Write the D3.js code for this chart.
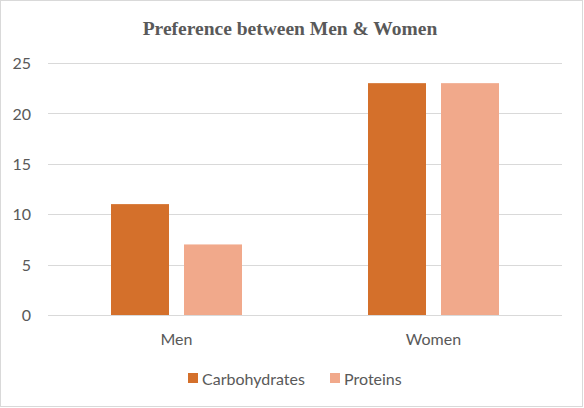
<!DOCTYPE html>
<html><head><meta charset="utf-8">
<script src="https://cdn.jsdelivr.net/npm/d3@7"></script>
<style>
html,body{margin:0;padding:0;background:#fff;}
svg{display:block;}
</style></head>
<body>
<script>
const categories = ["Men", "Women"];
const seriesNames = ["Carbohydrates", "Proteins"];
const carbohydrates = [11, 23];
const proteins = [7, 23];
const yTicks = [0, 5, 10, 15, 20, 25];
const colors = ["#D4702B", "#F1A98B"];

const W = 584, H = 408;
const svg = d3.select("body").append("svg").attr("width", W).attr("height", H);
svg.append("rect").attr("x", 0.5).attr("y", 0.5).attr("width", W - 2).attr("height", H - 2)
  .attr("fill", "#fff").attr("stroke", "#D9D9D9");

const plot = {left: 48, right: 562, top: 63, bottom: 315};
const x0 = d3.scaleBand().domain(categories).range([plot.left, plot.right]).paddingInner(0).paddingOuter(0);
const x1 = d3.scaleBand().domain(seriesNames).range([63, 63 + 58 * 2 + 15]).paddingInner(15 / 73).paddingOuter(0);
const y = d3.scaleLinear().domain([0, 25]).range([plot.bottom, plot.top]);

const font = "Lato, 'Open Sans', sans-serif";
const fs = "16px";

// gridlines
svg.append("g").selectAll("line").data(yTicks).join("line")
  .attr("x1", plot.left).attr("x2", plot.right)
  .attr("y1", d => Math.round(y(d)) + 0.5).attr("y2", d => Math.round(y(d)) + 0.5)
  .attr("stroke", "#D9D9D9").attr("stroke-width", 1);

// y labels
const yAxis = d3.axisLeft(y).tickValues(yTicks).tickSize(0).tickPadding(0);
const gy = svg.append("g").attr("transform", `translate(31,0.5)`).call(yAxis);
gy.select(".domain").remove();
gy.selectAll("text").attr("fill", "#595959").style("font-family", font).style("font-size", fs);

const data = categories.map((c, i) => ({cat: c, vals: [carbohydrates[i], proteins[i]]}));
const groups = svg.append("g").selectAll("g").data(data).join("g")
  .attr("transform", d => `translate(${x0(d.cat)},0)`);
groups.selectAll("rect").data(d => d.vals.map((v, j) => ({name: seriesNames[j], v, j}))).join("rect")
  .attr("x", d => x1(d.name)).attr("width", x1.bandwidth())
  .attr("y", d => y(d.v)).attr("height", d => y(0) - y(d.v))
  .attr("fill", d => colors[d.j]);

// x labels
const xAxis = d3.axisBottom(x0).tickSize(0).tickPadding(0);
const gx = svg.append("g").attr("transform", `translate(0,334)`).call(xAxis);
gx.select(".domain").remove();
gx.selectAll("text").attr("fill", "#595959").style("font-family", font).style("font-size", fs);

// title
svg.append("text").attr("x", 290).attr("y", 34.5).attr("text-anchor", "middle")
  .attr("fill", "#595959").style("font-family", "'Liberation Serif', 'Times New Roman', serif")
  .style("font-weight", "bold").style("font-size", "19.5px")
  .text("Preference between Men & Women");

// legend
const legendX = [188, 330];
const lg = svg.append("g").selectAll("g").data(seriesNames).join("g")
  .attr("transform", (d, i) => `translate(${legendX[i]},373)`);
lg.append("rect").attr("width", 10).attr("height", 10).attr("fill", (d, i) => colors[i]);
lg.append("text").attr("x", 14).attr("y", 12).text(d => d)
  .attr("fill", "#595959").style("font-family", font).style("font-size", fs);
</script>
</body></html>
